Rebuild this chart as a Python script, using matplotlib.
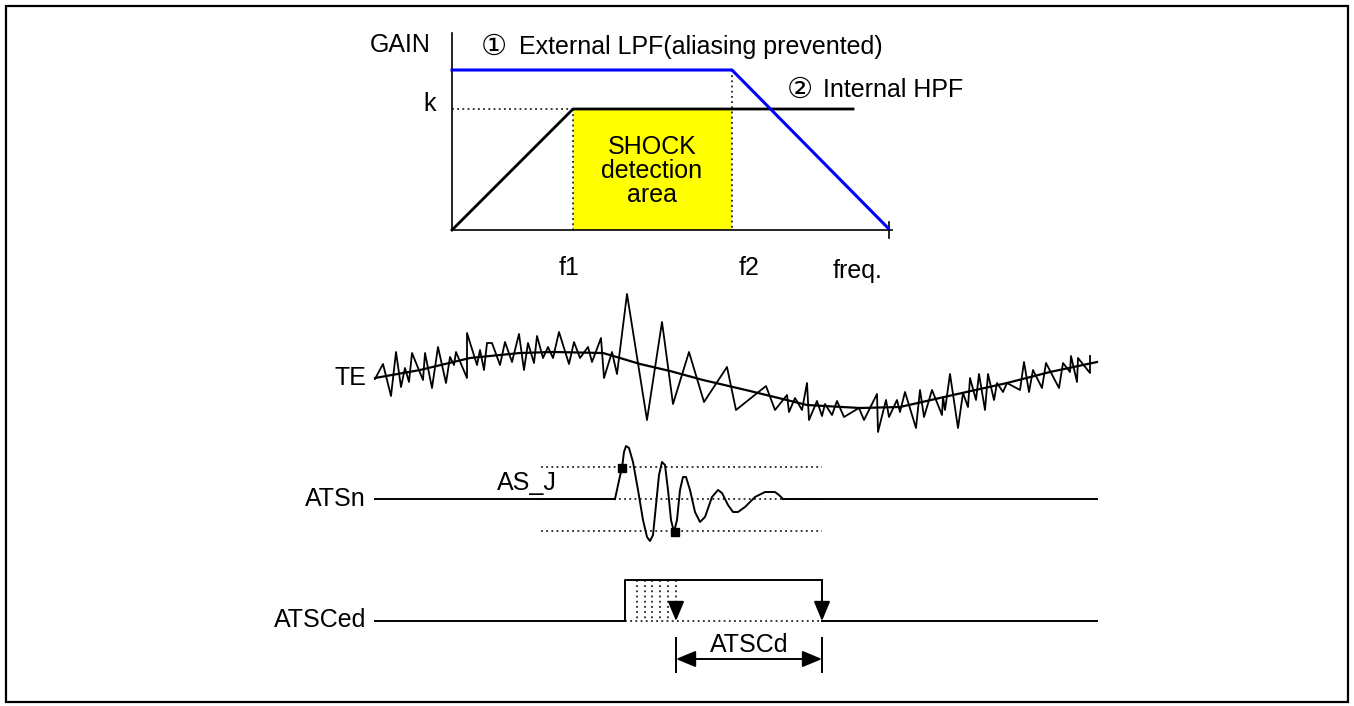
import matplotlib
matplotlib.use("Agg")
import matplotlib.pyplot as plt
from matplotlib.patches import Rectangle

plt.rcParams['font.family'] = ['Liberation Sans', 'DejaVu Sans']

# ---- gain plot (pixel coords of the sketch) ----
lpf_x = [452, 732, 888]
lpf_y = [70, 70, 228]
hpf_x = [452, 573, 853]
hpf_y = [230, 109, 109]
f1, f2, k_level = 573, 732, 109

# ---- TE waveform: noisy signal and its trend ----
te_x = [375, 383, 391, 396, 401, 405, 409, 412, 423, 425, 432, 438, 446, 450,
        454, 456, 467, 467, 477, 480, 484, 487, 492, 500, 505, 512, 519, 524,
        528, 534, 537, 543, 548, 553, 559, 569, 574, 580, 588, 592, 601, 604,
        612, 617, 627, 647, 662, 673, 689, 704, 727, 736, 766, 775, 787, 789,
        795, 802, 807, 809, 817, 822, 825, 832, 837, 844, 859, 864, 877, 878,
        886, 889, 897, 900, 905, 916, 920, 924, 932, 942, 943, 945, 950, 958,
        963, 968, 970, 976, 979, 985, 988, 994, 997, 1003, 1007, 1020, 1024,
        1029, 1033, 1042, 1046, 1059, 1063, 1070, 1071, 1077, 1078, 1090, 1090]
te_y = [379, 364, 396, 352, 387, 368, 382, 353, 380, 353, 388, 347, 383, 357,
        365, 352, 378, 333, 365, 350, 370, 343, 343, 365, 342, 362, 334, 370,
        343, 363, 336, 358, 347, 358, 332, 364, 342, 358, 347, 362, 338, 378,
        352, 374, 294, 420, 322, 404, 352, 402, 367, 410, 386, 410, 395, 412,
        398, 410, 383, 420, 401, 416, 404, 415, 401, 417, 408, 420, 394, 432,
        400, 417, 400, 412, 392, 428, 390, 417, 390, 415, 397, 410, 374, 428,
        393, 407, 378, 400, 374, 410, 374, 400, 383, 392, 383, 390, 362, 392,
        370, 388, 363, 388, 363, 372, 356, 382, 358, 373, 356]
trend_x = [375, 420, 470, 520, 553, 603, 620, 640, 670, 703, 750, 807, 860, 900,
           953, 1007, 1050, 1097]
trend_y = [378, 370, 358, 353, 352, 353, 358, 364, 371, 380, 391, 405, 408, 407,
           395, 383, 372, 362]

# ---- ATSn waveform ----
ats_x = [615, 620, 622, 624, 626, 629, 633, 638, 643, 647, 650, 653, 656, 659,
         662, 665, 668, 671, 674, 677, 680, 683, 686, 690, 695, 700, 705, 712,
         718, 722, 728, 733, 738, 745, 755, 765, 775, 779, 783]
ats_y = [499, 476, 468, 452, 446, 448, 462, 490, 520, 537, 541, 535, 505, 475,
         462, 465, 490, 520, 532, 520, 490, 477, 477, 490, 512, 522, 517, 497,
         490, 493, 505, 512, 512, 507, 497, 492, 492, 495, 499]
ats_base, ats_hi, ats_lo = 499, 467, 531
hits_x = [622, 675]
hits_y = [468, 532]

# ---- ATSCed ----
ced_low, ced_high = 621, 580
ced_rise, ced_end = 625, 822
retrig_x = [637, 645, 652, 660, 668]
last_trig = 676

fig = plt.figure(figsize=(13.54, 7.06), dpi=100)
ax = fig.add_axes([0, 0, 1, 1])
ax.set_xlim(0, 1354)
ax.set_ylim(706, 0)
ax.axis('off')

fs = 18
dot = (0, (1.2, 2.2))
ax.add_patch(Rectangle((6, 6), 1342, 696, fill=False, lw=1.6, ec='black'))

# gain plot
ax.fill([f1, f2, f2, f1], [k_level, k_level, 230, 230], color='#ffff00', lw=0, zorder=1)
ax.plot([452, 452], [33, 230], color='black', lw=1.2)
ax.plot([452, 892], [230, 230], color='black', lw=1.2)
ax.plot([889, 889], [222, 238], color='black', lw=1.2)
ax.plot([452, f1], [k_level, k_level], color='black', lw=1.1, ls=dot)
ax.plot([f1, f1], [k_level, 230], color='black', lw=1.1, ls=dot, zorder=2)
ax.plot([f2, f2], [70, 230], color='black', lw=1.1, ls=dot, zorder=2)
ax.plot(hpf_x, hpf_y, color='black', lw=2, zorder=3)
ax.plot(lpf_x, lpf_y, color='#0000ff', lw=2.2, zorder=4)

ax.text(370, 45, 'GAIN', fontsize=fs, va='center', ha='left')
ax.text(430, 104, 'k', fontsize=fs, va='center', ha='center')
ax.text(494, 47, '\u2460', fontsize=21, va='center', ha='center', family='DejaVu Sans')
ax.text(519, 47, 'External LPF(aliasing prevented)', fontsize=fs, va='center')
ax.text(800, 90, '\u2461', fontsize=21, va='center', ha='center', family='DejaVu Sans')
ax.text(823, 90, 'Internal HPF', fontsize=fs, va='center')
ax.text(652, 171, 'SHOCK\ndetection\narea', fontsize=fs, va='center', ha='center',
        linespacing=1.0, zorder=5)
ax.text(569, 268, 'f1', fontsize=fs, va='center', ha='center')
ax.text(749, 268, 'f2', fontsize=fs, va='center', ha='center')
ax.text(858, 271, 'freq.', fontsize=fs, va='center', ha='center')

# TE
ax.plot(te_x, te_y, color='black', lw=1.3)
ax.plot(trend_x, trend_y, color='black', lw=1.6)
ax.text(366, 378, 'TE', fontsize=fs, va='center', ha='right')

# ATSn
ax.plot([541, 822], [ats_hi, ats_hi], color='black', lw=1.1, ls=dot)
ax.plot([541, 822], [ats_lo, ats_lo], color='black', lw=1.1, ls=dot)
ax.plot([541, 822], [ats_base, ats_base], color='black', lw=1.1, ls=dot)
ax.plot([375, ats_x[0]], [ats_base, ats_base], color='black', lw=1.4)
ax.plot([ats_x[-1], 1097], [ats_base, ats_base], color='black', lw=1.4)
ax.plot(ats_x, ats_y, color='black', lw=1.4)
ax.plot(hits_x, hits_y, ls='none', marker='s', ms=6, color='black')
ax.text(366, 499, 'ATSn', fontsize=fs, va='center', ha='right')
ax.text(527, 483, 'AS_J', fontsize=fs, va='center', ha='center')

# ATSCed
ax.plot([375, ced_rise, ced_rise, ced_end], [ced_low, ced_low, ced_high, ced_high],
        color='black', lw=1.4)
ax.plot([ced_end, 1097], [ced_low, ced_low], color='black', lw=1.4)
ax.plot([ced_rise, ced_end], [ced_low, ced_low], color='black', lw=1.1, ls=dot)
for x in retrig_x:
    ax.plot([x, x], [ced_high, ced_low], color='black', lw=1.1, ls=dot)
ax.plot([last_trig, last_trig], [ced_high, 605], color='black', lw=1.1, ls=dot)
head = dict(arrowstyle='-|>,head_length=0.6,head_width=0.25', color='black',
            lw=1.4, shrinkA=0, shrinkB=0, mutation_scale=20)
ax.annotate('', xy=(last_trig, ced_low), xytext=(last_trig, 603), arrowprops=head)
ax.annotate('', xy=(ced_end, ced_low), xytext=(ced_end, ced_high), arrowprops=head)
ax.text(366, 620, 'ATSCed', fontsize=fs, va='center', ha='right')

# ATSCd dimension
ax.plot([last_trig, last_trig], [638, 672], color='black', lw=1.4)
ax.plot([ced_end, ced_end], [638, 672], color='black', lw=1.4)
ax.annotate('', xy=(ced_end, 659), xytext=(last_trig, 659),
            arrowprops=dict(arrowstyle='<|-|>,head_length=0.6,head_width=0.25',
                            color='black', lw=1.4, shrinkA=0, shrinkB=0,
                            mutation_scale=20))
ax.text(749, 645, 'ATSCd', fontsize=fs, va='center', ha='center')

fig.savefig('out.png', dpi=100)
